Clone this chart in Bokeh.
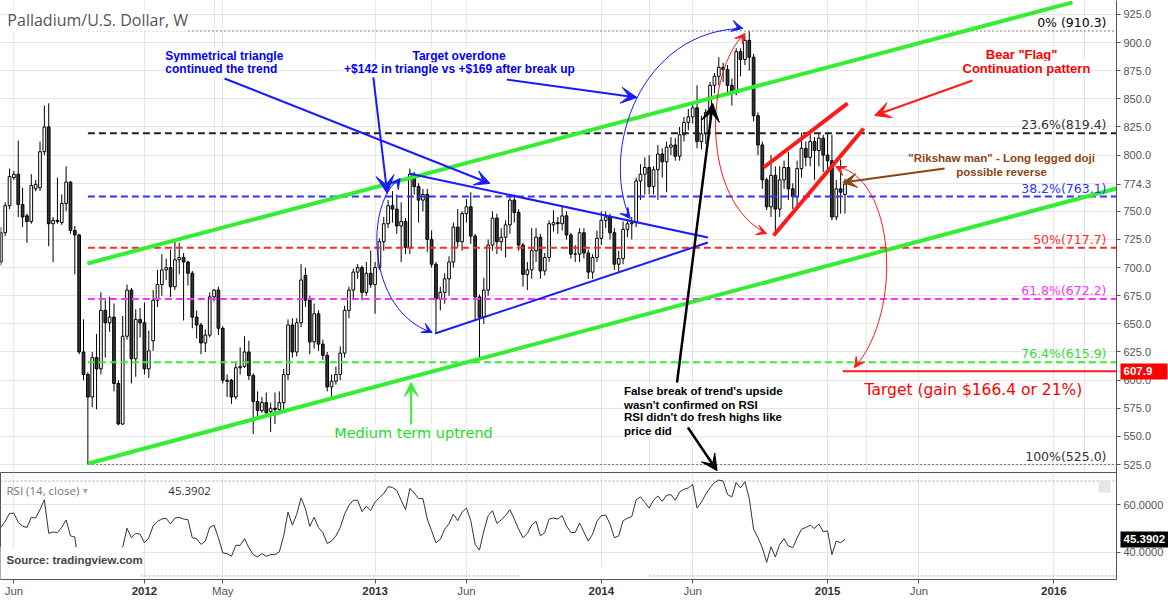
import math
import numpy as np
import pandas as pd
from bokeh.plotting import figure
from bokeh.layouts import column
from bokeh.models import (ColumnDataSource, FixedTicker, NumeralTickFormatter, Label,
                          Arrow, VeeHead, Grid, Range1d, LinearAxis)
from bokeh.embed import file_html
from bokeh.resources import INLINE

# ---------------- data (weekly bars, Palladium / USD) ----------------
origin = pd.Timestamp("2011-05-09")
bar_dates = pd.date_range("2011-05-16", periods=195, freq="7D")

opens = [705, 731, 755, 780, 783, 756, 746, 741, 770, 771,
         803, 825, 739, 742, 740, 757, 776, 733, 729, 625,
         605, 585, 620, 610, 662, 651, 656, 597, 561, 639,
         680, 619, 654, 651, 610, 635, 671, 685, 698, 700,
         683, 707, 709, 705, 695, 656, 649, 633, 640, 674,
         680, 646, 600, 600, 585, 611, 612, 625, 604, 581,
         573, 580, 572, 575, 574, 580, 605, 649, 625, 651,
         693, 671, 634, 659, 632, 622, 594, 599, 605, 624,
         662, 680, 696, 700, 678, 695, 685, 700, 723, 739,
         755, 752, 737, 741, 718, 783, 772, 760, 765, 725,
         703, 672, 678, 690, 705, 736, 723, 748, 754, 728,
         674, 656, 680, 720, 744, 723, 727, 738, 760, 749,
         720, 694, 698, 715, 727, 697, 709, 738, 740, 739,
         746, 729, 712, 712, 731, 713, 696, 709, 726, 742,
         745, 731, 703, 708, 734, 739, 740, 777, 783, 789,
         772, 787, 801, 794, 807, 809, 799, 818, 829, 834,
         842, 812, 819, 838, 862, 870, 878, 876, 862, 857,
         892, 885, 902, 887, 835, 809, 778, 754, 782, 752,
         778, 789, 770, 763, 788, 806, 798, 812, 804, 815,
         800, 795, 745, 770, 765]
highs = [736, 758, 788, 786, 813, 771, 748, 783, 778, 812,
         844, 846, 745, 780, 765, 790, 777, 737, 730, 654,
         607, 625, 641, 678, 671, 674, 668, 600, 657, 685,
         682, 663, 664, 669, 644, 680, 698, 712, 708, 716,
         723, 722, 713, 706, 697, 662, 651, 645, 678, 681,
         683, 648, 605, 601, 615, 629, 639, 635, 606, 590,
         585, 589, 580, 589, 590, 610, 654, 655, 655, 703,
         700, 675, 668, 662, 636, 625, 605, 612, 630, 666,
         683, 699, 703, 702, 705, 715, 705, 726, 745, 760,
         768, 765, 758, 744, 788, 785, 775, 770, 770, 733,
         705, 683, 695, 710, 740, 752, 750, 761, 767, 730,
         676, 691, 725, 750, 748, 735, 742, 765, 765, 752,
         722, 705, 735, 735, 730, 713, 742, 751, 745, 754,
         750, 731, 720, 735, 735, 716, 712, 733, 750, 750,
         748, 735, 715, 741, 742, 745, 780, 792, 798, 800,
         790, 809, 806, 812, 816, 815, 825, 834, 841, 846,
         862, 835, 841, 865, 873, 887, 882, 880, 868, 895,
         895, 906, 910.3, 890, 838, 812, 780, 800, 790, 790,
         795, 803, 775, 795, 820, 812, 820, 816, 820, 818,
         820, 818, 778, 796, 779]
lows = [702, 728, 752, 778, 745, 736, 722, 739, 768, 768,
        800, 719, 705, 739, 738, 750, 730, 694, 623, 600,
        525, 576, 574, 605, 620, 643, 590, 560, 560, 636,
        597, 603, 638, 605, 602, 626, 665, 675, 689, 674,
        680, 694, 653, 684, 646, 637, 623, 625, 638, 670,
        640, 597, 585, 579, 583, 605, 611, 600, 552, 565,
        571, 568, 554, 561, 570, 572, 600, 620, 621, 647,
        665, 623, 628, 626, 618, 590, 585, 596, 600, 620,
        655, 671, 690, 671, 675, 682, 659, 698, 715, 735,
        740, 730, 705, 712, 712, 765, 740, 750, 714, 700,
        641, 662, 668, 675, 700, 718, 715, 740, 721, 653,
        619, 650, 675, 715, 712, 715, 709, 730, 740, 715,
        683, 680, 690, 705, 690, 693, 705, 732, 730, 733,
        725, 708, 705, 705, 708, 690, 690, 705, 720, 735,
        725, 698, 695, 703, 727, 725, 736, 760, 765, 765,
        765, 760, 780, 767, 800, 795, 795, 812, 822, 828,
        806, 805, 810, 832, 855, 862, 865, 855, 844, 853,
        870, 880, 875, 830, 800, 770, 751, 745, 730, 745,
        770, 760, 752, 755, 780, 790, 790, 778, 790, 785,
        785, 742, 742, 748, 748]
closes = [731, 755, 781, 783, 756, 745, 741, 773, 774, 803,
          825, 739, 742, 741, 757, 776, 733, 729, 625, 605,
          585, 620, 610, 662, 651, 656, 597, 561, 639, 680,
          619, 654, 651, 610, 626, 671, 685, 698, 700, 683,
          707, 709, 705, 695, 656, 649, 633, 640, 674, 680,
          646, 600, 599, 585, 611, 612, 625, 604, 581, 573,
          580, 571, 575, 574, 580, 605, 649, 625, 651, 689,
          671, 634, 659, 632, 622, 594, 599, 605, 624, 662,
          680, 696, 700, 678, 695, 685, 700, 723, 739, 755,
          752, 737, 741, 718, 783, 772, 760, 765, 725, 703,
          672, 678, 690, 705, 736, 723, 748, 754, 728, 674,
          656, 680, 720, 744, 723, 727, 738, 760, 749, 720,
          694, 698, 715, 727, 697, 709, 739, 740, 739, 746,
          729, 712, 712, 731, 713, 696, 709, 726, 742, 745,
          731, 703, 708, 734, 739, 740, 777, 783, 789, 772,
          787, 801, 794, 807, 809, 799, 818, 829, 834, 842,
          812, 819, 838, 862, 870, 878, 876, 862, 857, 892,
          885, 902, 887, 835, 809, 778, 754, 782, 752, 778,
          789, 770, 763, 788, 806, 798, 812, 804, 815, 800,
          795, 745, 770, 767, 774.3]
rsi_values = [50.4, 53, 56.4, 56.4, 52.6, 51, 50.4, 54.7, 54.4, 58,
              62.1, 48, 48.5, 48.3, 50.5, 53.6, 46.9, 46.4, 32, 29,
              26, 34, 33, 40, 38, 39, 33, 29, 42, 50.1,
              46.1, 47.9, 47.6, 44, 46, 51.1, 53, 54, 54.3, 51.9,
              54.4, 54.7, 54, 53.7, 46.1, 45.7, 43.3, 44.7, 50.4, 51.4,
              46.1, 39.7, 39.4, 38.3, 42.9, 42.9, 45.7, 41.9, 39, 38,
              39.4, 38.3, 39, 39, 40.1, 47, 56.9, 51.4, 56, 62.9,
              58.3, 50.9, 54.7, 50.4, 48.3, 43.7, 44.7, 46.9, 50.4, 56.1,
              59.7, 61.9, 61.9, 57.1, 59.4, 57.6, 61.1, 63, 64.7, 67.6,
              67.3, 66, 61.9, 57.9, 66.9, 65, 62.6, 62.6, 54, 49,
              44, 45.4, 49.7, 52, 56.1, 53.3, 56.9, 58.6, 53.3, 43.3,
              40.9, 49, 55.4, 57.5, 52.1, 53.6, 55.5, 57.9, 54, 49.7,
              46.1, 47.9, 51.4, 53, 46.9, 48.3, 54, 54.4, 54, 55.4,
              51.1, 48.3, 48.3, 52.3, 48.5, 44.7, 47.6, 53, 55.4, 55.7,
              51.9, 46.1, 46.9, 53.3, 54.3, 55, 62.1, 63.3, 61, 58.6,
              61.9, 63.7, 61.4, 64, 64.3, 61.9, 65.4, 66.5, 67.1, 68.6,
              58.6, 61.1, 64.5, 67.1, 69.4, 70.4, 70, 64.3, 63.3, 69.4,
              67.1, 69.7, 62.6, 49.7, 46.1, 41.9, 35.7, 42.3, 38, 43.3,
              45.7, 42.6, 41.9, 46, 49.7, 50.4, 51.4, 50, 51.9, 48.6,
              49, 39, 44.7, 44, 45.3902]

tick_dates = ["2011-06-01", "2012-01-01", "2012-05-01", "2013-01-01", "2013-06-01",
              "2014-01-01", "2014-06-01", "2015-01-01", "2015-06-01", "2016-01-01"]
tick_labels = ["Jun", "2012", "May", "2013", "Jun", "2014", "Jun", "2015", "Jun", "2016"]

price_ticks = [525, 550, 575, 600, 625, 650, 675, 700, 725, 750, 775, 800, 825, 850, 875, 900, 925]
fib_levels = [910.3, 819.4, 763.1, 717.7, 672.2, 615.9, 525.0]
fib_texts = ["0% (910.3)", "23.6%(819.4)", "38.2%(763.1)", "50%(717.7)",
             "61.8%(672.2)", "76.4%(615.9)", "100%(525.0)"]
target_price = 607.9
last_close = 774.3
last_rsi = 45.3902

# ---------------- derived ----------------
x = ((bar_dates - origin).days / 7.0).values
xt = [int(math.ceil((pd.Timestamp(d) - origin).days / 7.0)) for d in tick_dates]
o = np.array(opens, float); c = np.array(closes, float)
src = ColumnDataSource(dict(x=x, h=highs, l=lows, top=np.maximum(o, c), bottom=np.minimum(o, c),
                            fill=["white" if cc >= oo else "#333333" for oo, cc in zip(o, c)]))

XR = Range1d(0.92, 257.4)
GRID = "#e6e6e6"
AXC = "#555555"


def style_axis(ax, size="11px"):
    ax.major_label_text_font = "Liberation Sans"
    ax.major_label_text_font_size = size
    ax.major_label_text_color = AXC
    ax.axis_line_color = AXC
    ax.major_tick_line_color = AXC
    ax.major_tick_out = 4
    ax.major_tick_in = 0
    ax.minor_tick_line_color = None


def box_axis(fig, val, fmt, color, main_w, right_edge):
    """price tag drawn as an extra right axis: a thick tick is the box, the label sits on it"""
    ax = LinearAxis(ticker=FixedTicker(ticks=[val]), formatter=NumeralTickFormatter(format=fmt))
    ax.axis_line_color = None
    ax.minor_tick_line_color = None
    ax.major_tick_line_color = color
    ax.major_tick_line_width = 16
    ax.major_tick_in = main_w - 1
    ax.major_tick_out = right_edge - main_w
    ax.major_label_standoff = 4 - right_edge
    ax.major_label_text_color = "white"
    ax.major_label_text_font = "Liberation Sans"
    ax.major_label_text_font_size = "11.5px"
    ax.major_label_text_font_style = "bold"
    fig.add_layout(ax, "right")


main = figure(width=1168, height=472, x_range=XR, y_range=Range1d(517.9, 937.4),
              x_axis_location=None, y_axis_location="right", toolbar_location=None,
              output_backend="svg", min_border_left=0, min_border_right=51,
              min_border_top=0, min_border_bottom=0, outline_line_color=None)
main.yaxis.ticker = FixedTicker(ticks=[t for t in price_ticks if abs(t - last_close) > 5] + [last_close])
main.yaxis.formatter = NumeralTickFormatter(format="0.0")
style_axis(main.yaxis[0])
main.yaxis.major_label_standoff = 3
main.ygrid.ticker = FixedTicker(ticks=price_ticks)
main.ygrid.grid_line_color = GRID
main.add_layout(Grid(dimension=0, ticker=FixedTicker(ticks=xt), grid_line_color=GRID))
box_axis(main, target_price, "0.0", "#ff0000", 35, 48)

# candles
main.segment(x0="x", y0="l", x1="x", y1="h", source=src, line_color="#000000", line_width=1)
main.vbar(x="x", top="top", bottom="bottom", width=0.62, source=src,
          fill_color="fill", line_color="#000000", line_width=1)

# fibonacci levels
fib_start = x[int(np.argmin(lows))]
fib_colors = ["#777777", "#222222", "#3333ff", "#ff2a2a", "#ff33ff", "#33ee33", "#777777"]
fib_text_colors = ["#000000", "#333333", "#3333ff", "#ff2a2a", "#ff33ff", "#33dd33", "#333333"]
for lvl, col, tcol, txt in zip(fib_levels, fib_colors, fib_text_colors, fib_texts):
    dotted = lvl in (fib_levels[0], fib_levels[-1])
    main.segment(x0=[fib_start], y0=[lvl], x1=[257.4], y1=[lvl], line_color=col,
                 line_width=1 if dotted else 2, line_dash="2 2" if dotted else "7 4")
    main.add_layout(Label(x=255.1, y=lvl, text=txt, text_align="right", text_baseline="bottom",
                          y_offset=1, text_font="DejaVu Sans", text_font_size="12.5px",
                          text_color=tcol))

# channel lines (green)
GREEN = "#33ee33"
main.line([20.9, 247.3], [703.7, 935.7], line_color=GREEN, line_width=4)
main.line([21.1, 257.4], [525.9, 770.3], line_color=GREEN, line_width=4)

# triangle (blue)
BLUE = "#1a1aff"
main.line([94.8, 163.5], [783.7, 726.8], line_color=BLUE, line_width=2)
main.line([100.8, 163.5], [641.4, 722.3], line_color=BLUE, line_width=2)

# bear flag (red)
RED = "#ff1a1a"
main.line([176.3, 195.6], [789.0, 845.9], line_color=RED, line_width=4)
main.line([178.6, 199.3], [728.6, 823.7], line_color=RED, line_width=4)

# target line
main.line([194.5, 257.4], [target_price, target_price], line_color=RED, line_width=2)

# curves
main.bezier(x0=[92.77], y0=[779.2], cx0=[84.7], cy0=[759.7], cx1=[84.7], cy1=[661.9],
            x1=[100.1], y1=[642.3], line_color=BLUE, line_width=1)
main.bezier(x0=[145.6], y0=[743.7], cx0=[138.7], cy0=[804.1], cx1=[147.9], cy1=[910.8],
            x1=[171.5], y1=[912.6], line_color=BLUE, line_width=1)
main.bezier(x0=[172.0], y0=[908.1], cx0=[162.8], cy0=[875.2], cx1=[161.7], cy1=[759.7],
            x1=[177.0], y1=[730.3], line_color=RED, line_width=1)
main.bezier(x0=[192.9], y0=[789.9], cx0=[206.4], cy0=[781.9], cx1=[208.7], cy1=[661.9],
            x1=[197.2], y1=[611.2], line_color=RED, line_width=1)


def arrow(fig, x0, y0, x1, y1, color, width, head, show_line=True):
    fig.add_layout(Arrow(end=VeeHead(size=head, fill_color=color, line_color=color, line_width=1),
                         x_start=x0, y_start=y0, x_end=x1, y_end=y1, line_color=color,
                         line_width=width, line_alpha=1.0 if show_line else 0.0))


# heads on the curves
arrow(main, 97.4, 647.6, 100.1, 642.3, BLUE, 1, 10, False)
arrow(main, 91.4, 772.1, 92.77, 779.2, BLUE, 1, 10, False)
arrow(main, 168.5, 915.3, 171.5, 912.6, BLUE, 1, 11, False)
arrow(main, 144.2, 750.8, 145.6, 743.7, BLUE, 1, 10, False)
arrow(main, 170.6, 901.0, 172.0, 908.1, RED, 1, 10, False)
arrow(main, 174.5, 733.9, 177.0, 730.3, RED, 1, 10, False)
arrow(main, 195.2, 785.4, 192.9, 789.9, RED, 1, 10, False)
arrow(main, 198.8, 620.1, 197.2, 611.2, RED, 1, 10, False)

# straight arrows
arrow(main, 52.4, 868.1, 113.4, 774.8, BLUE, 2, 15)
arrow(main, 86.6, 869.0, 89.8, 765.9, BLUE, 2, 18)
arrow(main, 117.3, 867.2, 147.2, 851.2, BLUE, 2, 16)
arrow(main, 224.3, 866.3, 201.8, 835.2, RED, 2, 16)
arrow(main, 156.4, 597.9, 164.6, 845.9, "#000000", 2.5, 18)
arrow(main, 158.9, 557.9, 165.6, 519.5, "#000000", 2.5, 16)
arrow(main, 217.9, 788.1, 194.5, 775.7, "#8b4513", 2, 14)
arrow(main, 95.3, 557.9, 95.3, 597.9, GREEN, 2, 14)


def text(fig, xx, yy, t, color, font="Liberation Sans", size="12px", style="bold",
         align="left", bg="white"):
    fig.add_layout(Label(x=xx, y=yy, text=t, text_color=color, text_font=font,
                         text_font_size=size, text_font_style=style, text_align=align,
                         text_baseline="middle", background_fill_color=bg))


text(main, 2.5, 919.7, "Palladium/U.S. Dollar, W", "#555555", font="Open Sans", size="16px",
     style="normal")
text(main, 38.8, 888.1, "Symmetrical triangle", "#0000ff")
text(main, 38.8, 876.4, "continued the trend", "#0000ff")
text(main, 106.3, 888.1, "Target overdone", "#0000ff", align="center")
text(main, 106.4, 876.4, "+$142 in triangle vs +$169 after break up", "#0000ff", align="center")
text(main, 235.6, 889.5, "Bear \"Flag\"", "#ff0000", size="13px", align="center")
text(main, 236.7, 877.1, "Continuation pattern", "#ff0000", size="13px", align="center")
text(main, 231.0, 797.3, "\"Rikshaw man\" - Long legged doji", "#8b4513", size="11.5px", align="center")
text(main, 231.0, 784.9, "possible reverse", "#8b4513", size="11.5px", align="center")
text(main, 77.6, 553.4, "Medium term uptrend", "#22dd22", font="DejaVu Sans", size="14.5px",
     style="normal")
for yy, t in zip([589.9, 578.3, 566.8, 555.2],
                 ["False break of trend's upside", "wasn't confirmed on RSI",
                  "RSI didn't do fresh highs like", "price did"]):
    text(main, 144.2, yy, t, "#000000", size="11.5px")
text(main, 199.5, 590.8, "Target (gain $166.4 or 21%)", "#ff0000", font="DejaVu Sans",
     size="15.5px", style="normal")

# ---------------- RSI pane ----------------
rsi_fig = figure(width=1168, height=129, x_range=XR, y_range=Range1d(28.5, 73.6),
                 y_axis_location="right", toolbar_location=None, output_backend="svg",
                 min_border_left=0, min_border_right=51, min_border_top=0, min_border_bottom=22,
                 outline_line_color=AXC)
rsi_fig.xaxis.ticker = FixedTicker(ticks=xt)
rsi_fig.xaxis.major_label_overrides = {t: ("" if lab.isdigit() else lab) for t, lab in zip(xt, tick_labels)}
style_axis(rsi_fig.xaxis[0], "11.5px")
rsi_fig.xaxis.major_label_standoff = 1

# year labels (bold) on a second bottom axis pulled up onto the first one
year_ticks = [t for t, lab in zip(xt, tick_labels) if lab.isdigit()]
year_axis = LinearAxis(ticker=FixedTicker(ticks=year_ticks),
                       major_label_overrides={t: lab for t, lab in zip(xt, tick_labels) if lab.isdigit()})
year_axis.axis_line_color = None
year_axis.major_tick_line_color = None
year_axis.minor_tick_line_color = None
year_axis.major_tick_out = 0
year_axis.major_tick_in = 0
year_axis.major_label_standoff = -13
year_axis.major_label_text_font = "Liberation Sans"
year_axis.major_label_text_font_size = "11.5px"
year_axis.major_label_text_font_style = "bold"
year_axis.major_label_text_color = "#333333"
rsi_fig.add_layout(year_axis, "below")

rsi_fig.yaxis.ticker = FixedTicker(ticks=[40, 60])
rsi_fig.yaxis.formatter = NumeralTickFormatter(format="0.0000")
style_axis(rsi_fig.yaxis[0])
rsi_fig.yaxis.major_label_standoff = 3
rsi_fig.xgrid.grid_line_color = GRID
rsi_fig.ygrid.grid_line_color = GRID
box_axis(rsi_fig, last_rsi, "0.0000", "#000000", 47, 51)

rsi_fig.segment(x0=[0.92, 0.92], y0=[70, 30], x1=[257.4, 257.4], y1=[70, 30],
                line_color="#aaaaaa", line_width=1, line_dash="2 2")
rsi_fig.line(x, rsi_values, line_color="#333333", line_width=1)
# white patches from the source note / text box
rsi_fig.quad(left=[0.5, 120.3], right=[33.1, 149.9], bottom=[27, 27], top=[42.1, 34],
             fill_color="white", line_color=None)
rsi_fig.quad(left=[253.3], right=[256.0], bottom=[65.1], top=[70.2], fill_color="#e6e6e6",
             line_color=None)

text(rsi_fig, 2.3, 66.0, "RSI (14, close)", "#777777", font="Open Sans", size="11.5px",
     style="normal", bg=None)
text(rsi_fig, 19.8, 66.0, "\u25be", "#aaaaaa", font="DejaVu Sans", size="10px", style="normal", bg=None)
text(rsi_fig, 39.5, 66.0, "45.3902", "#333333", font="Open Sans", size="11.5px", style="normal", bg=None)
text(rsi_fig, 2.3, 36.6, "Source: tradingview.com", "#444444", size="11.5px", bg=None)

layout = column(main, rsi_fig)
open("out.html", "w").write(file_html(layout, INLINE, title="Palladium/U.S. Dollar, W"))
